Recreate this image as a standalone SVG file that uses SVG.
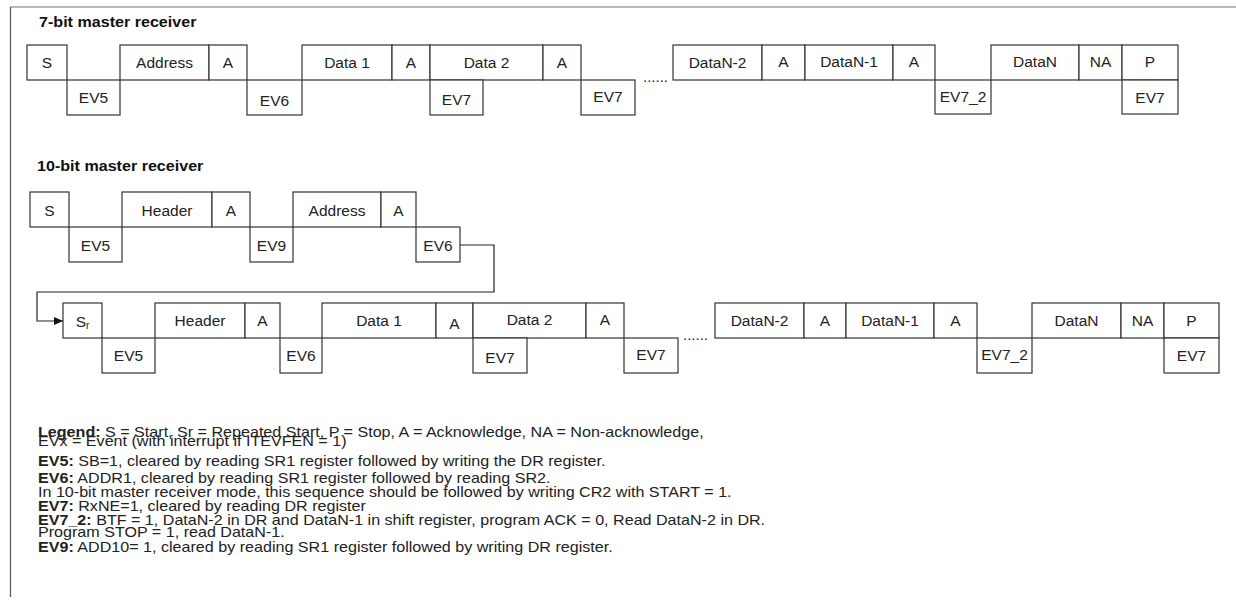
<svg xmlns="http://www.w3.org/2000/svg" width="1236" height="601" viewBox="0 0 1236 601">
<style>
.box{fill:#fff;stroke:#333;stroke-width:1.2}
.lbl{font-family:"Liberation Sans",Arial,sans-serif;font-size:15.5px;fill:#222;text-anchor:middle}
.ttl{font-family:"Liberation Sans",Arial,sans-serif;font-size:14px;font-weight:bold;fill:#111}
.leg{font-family:"Liberation Sans",Arial,sans-serif;font-size:14px;fill:#222}
.b{font-weight:bold}
.dots{font-family:"Liberation Sans",Arial,sans-serif;font-size:15px;fill:#222}
.conn{fill:none;stroke:#222;stroke-width:1.2}
</style>
<defs>
<marker id="arr" markerWidth="10" markerHeight="10" refX="9" refY="5" orient="auto" markerUnits="userSpaceOnUse">
<path d="M0,1 L9,5 L0,9 Z" fill="#111"/>
</marker>
</defs>
<rect width="1236" height="601" fill="#fff"/>
<g id="frame">
<line x1="10" y1="7" x2="1236" y2="7" stroke="#a0a0a0" stroke-width="1.5"/>
<line x1="10.5" y1="7" x2="10.5" y2="597" stroke="#555" stroke-width="1.2"/>
</g>
<g transform="translate(39,0) scale(1.15,1)"><text id="title7" class="ttl" x="0" y="27">7-bit master receiver</text></g>
<g transform="translate(37,0) scale(1.15,1)"><text id="title10" class="ttl" x="0" y="171">10-bit master receiver</text></g>

<!-- 7-bit row -->
<g id="r7-S"><rect class="box" x="27" y="45" width="40" height="35"/><text class="lbl" x="47" y="68">S</text></g>
<g id="r7-EV5"><rect class="box" x="67" y="80" width="53" height="35"/><text class="lbl" x="93.5" y="103">EV5</text></g>
<g id="r7-Address"><rect class="box" x="120" y="45" width="89" height="35"/><text class="lbl" x="164.5" y="68">Address</text></g>
<g id="r7-A1"><rect class="box" x="209" y="45" width="38" height="35"/><text class="lbl" x="228" y="68">A</text></g>
<g id="r7-EV6"><rect class="box" x="247" y="80" width="55" height="35"/><text class="lbl" x="274.5" y="106">EV6</text></g>
<g id="r7-Data1"><rect class="box" x="302" y="45" width="90" height="35"/><text class="lbl" x="347" y="68">Data 1</text></g>
<g id="r7-A2"><rect class="box" x="392" y="45" width="38" height="35"/><text class="lbl" x="411" y="68">A</text></g>
<g id="r7-Data2"><rect class="box" x="430" y="45" width="113" height="35"/><text class="lbl" x="486.5" y="68">Data 2</text></g>
<g id="r7-EV7a"><rect class="box" x="430" y="80" width="53" height="35"/><text class="lbl" x="456.5" y="105">EV7</text></g>
<g id="r7-A3"><rect class="box" x="543" y="45" width="38" height="35"/><text class="lbl" x="562" y="68">A</text></g>
<g id="r7-EV7b"><rect class="box" x="581" y="80" width="54" height="35"/><text class="lbl" x="608" y="102">EV7</text></g>
<text id="r7-dots" class="dots" x="643" y="82">......</text>
<g id="r7-DataN-2"><rect class="box" x="673" y="45" width="89" height="35"/><text class="lbl" x="717.5" y="68">DataN-2</text></g>
<g id="r7-A4"><rect class="box" x="762" y="45" width="43" height="35"/><text class="lbl" x="783.5" y="67">A</text></g>
<g id="r7-DataN-1"><rect class="box" x="805" y="45" width="88" height="35"/><text class="lbl" x="849" y="67">DataN-1</text></g>
<g id="r7-A5"><rect class="box" x="893" y="45" width="42" height="35"/><text class="lbl" x="914" y="67">A</text></g>
<g id="r7-EV7_2"><rect class="box" x="935" y="80" width="56" height="34"/><text class="lbl" x="963" y="102">EV7_2</text></g>
<g id="r7-DataN"><rect class="box" x="991" y="45" width="88" height="35"/><text class="lbl" x="1035" y="67">DataN</text></g>
<g id="r7-NA"><rect class="box" x="1079" y="45" width="43" height="35"/><text class="lbl" x="1100.5" y="67">NA</text></g>
<g id="r7-P"><rect class="box" x="1122" y="45" width="56" height="35"/><text class="lbl" x="1150" y="67">P</text></g>
<g id="r7-EV7c"><rect class="box" x="1122" y="80" width="56" height="34"/><text class="lbl" x="1150" y="103">EV7</text></g>

<!-- 10-bit row 1 -->
<g id="r10-S"><rect class="box" x="30" y="192" width="39" height="35"/><text class="lbl" x="49.5" y="216">S</text></g>
<g id="r10-EV5"><rect class="box" x="69" y="227" width="53" height="35"/><text class="lbl" x="95.5" y="251">EV5</text></g>
<g id="r10-Header"><rect class="box" x="122" y="192" width="90" height="35"/><text class="lbl" x="167" y="216">Header</text></g>
<g id="r10-A1"><rect class="box" x="212" y="192" width="38" height="35"/><text class="lbl" x="231" y="216">A</text></g>
<g id="r10-EV9"><rect class="box" x="250" y="227" width="43" height="35"/><text class="lbl" x="271.5" y="251">EV9</text></g>
<g id="r10-Address"><rect class="box" x="293" y="192" width="88" height="35"/><text class="lbl" x="337" y="216">Address</text></g>
<g id="r10-A2"><rect class="box" x="381" y="192" width="35" height="35"/><text class="lbl" x="398.5" y="216">A</text></g>
<g id="r10-EV6"><rect class="box" x="416" y="227" width="44" height="35"/><text class="lbl" x="438" y="251">EV6</text></g>

<!-- 10-bit row 2 -->
<g id="r10-Sr"><rect class="box" x="63" y="303" width="39" height="35"/><text class="lbl" x="82.5" y="327">S<tspan font-size="10" dy="2">r</tspan></text></g>
<g id="r10-EV5b"><rect class="box" x="102" y="338" width="53" height="35"/><text class="lbl" x="128.5" y="361">EV5</text></g>
<g id="r10-Header2"><rect class="box" x="155" y="303" width="90" height="35"/><text class="lbl" x="200" y="326">Header</text></g>
<g id="r10-A3"><rect class="box" x="245" y="303" width="35" height="35"/><text class="lbl" x="262.5" y="326">A</text></g>
<g id="r10-EV6b"><rect class="box" x="280" y="338" width="42" height="35"/><text class="lbl" x="301" y="361">EV6</text></g>
<g id="r10-Data1"><rect class="box" x="322" y="303" width="114" height="35"/><text class="lbl" x="379" y="326">Data 1</text></g>
<g id="r10-A4"><rect class="box" x="436" y="303" width="37" height="35"/><text class="lbl" x="454.5" y="329">A</text></g>
<g id="r10-Data2"><rect class="box" x="473" y="303" width="113" height="35"/><text class="lbl" x="529.5" y="325">Data 2</text></g>
<g id="r10-EV7a"><rect class="box" x="473" y="338" width="54" height="35"/><text class="lbl" x="500" y="363">EV7</text></g>
<g id="r10-A5"><rect class="box" x="586" y="303" width="38" height="35"/><text class="lbl" x="605" y="325">A</text></g>
<g id="r10-EV7b"><rect class="box" x="624" y="338" width="54" height="35"/><text class="lbl" x="651" y="360">EV7</text></g>
<text id="r10-dots" class="dots" x="683" y="340">......</text>
<g id="r10-DataN-2"><rect class="box" x="715" y="303" width="89" height="35"/><text class="lbl" x="759.5" y="326">DataN-2</text></g>
<g id="r10-A6"><rect class="box" x="804" y="303" width="42" height="35"/><text class="lbl" x="825" y="326">A</text></g>
<g id="r10-DataN-1"><rect class="box" x="846" y="303" width="88" height="35"/><text class="lbl" x="890" y="326">DataN-1</text></g>
<g id="r10-A7"><rect class="box" x="934" y="303" width="43" height="35"/><text class="lbl" x="955.5" y="326">A</text></g>
<g id="r10-EV7_2"><rect class="box" x="977" y="338" width="55" height="35"/><text class="lbl" x="1004.5" y="360">EV7_2</text></g>
<g id="r10-DataN"><rect class="box" x="1032" y="303" width="89" height="35"/><text class="lbl" x="1076.5" y="326">DataN</text></g>
<g id="r10-NA"><rect class="box" x="1121" y="303" width="43" height="35"/><text class="lbl" x="1142.5" y="326">NA</text></g>
<g id="r10-P"><rect class="box" x="1164" y="303" width="55" height="35"/><text class="lbl" x="1191.5" y="326">P</text></g>
<g id="r10-EV7c"><rect class="box" x="1164" y="338" width="55" height="35"/><text class="lbl" x="1191.5" y="361">EV7</text></g>

<g id="connectors">
<path class="conn" d="M460,245 H494 V292 H37 V321 H63" marker-end="url(#arr)"/>
</g>

<g id="legend" transform="translate(38,0) scale(1.15,1)">
<text class="leg" x="0" y="437"><tspan class="b">Legend:</tspan> S = Start, Sr = Repeated Start, P = Stop, A = Acknowledge, NA = Non-acknowledge,</text>
<text class="leg" x="0" y="446">EVx = Event (with interrupt if ITEVFEN = 1)</text>
<text class="leg" x="0" y="466"><tspan class="b">EV5:</tspan> SB=1, cleared by reading SR1 register followed by writing the DR register.</text>
<text class="leg" x="0" y="483"><tspan class="b">EV6:</tspan> ADDR1, cleared by reading SR1 register followed by reading SR2.</text>
<text class="leg" x="0" y="497">In 10-bit master receiver mode, this sequence should be followed by writing CR2 with START = 1.</text>
<text class="leg" x="0" y="511"><tspan class="b">EV7:</tspan> RxNE=1, cleared by reading DR register</text>
<text class="leg" x="0" y="525"><tspan class="b">EV7_2:</tspan> BTF = 1, DataN-2 in DR and DataN-1 in shift register, program ACK = 0, Read DataN-2 in DR.</text>
<text class="leg" x="0" y="537">Program STOP = 1, read DataN-1.</text>
<text class="leg" x="0" y="552"><tspan class="b">EV9:</tspan> ADD10= 1, cleared by reading SR1 register followed by writing DR register.</text>
</g>
</svg>
